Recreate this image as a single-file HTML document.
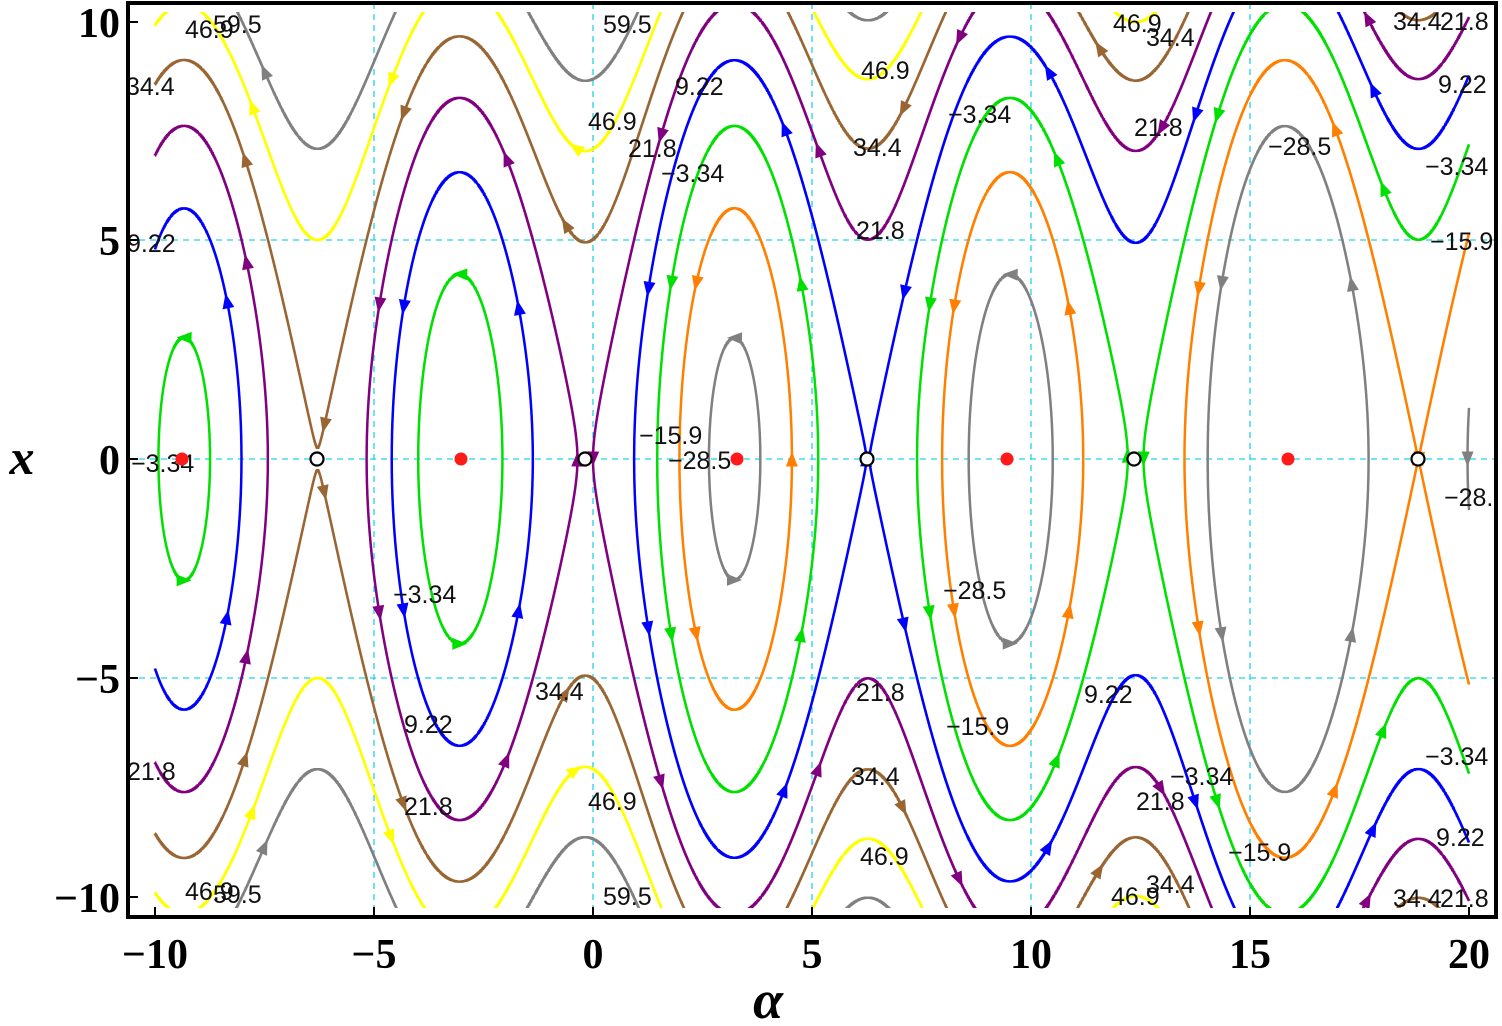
<!DOCTYPE html>
<html><head><meta charset="utf-8">
<style>
html,body{margin:0;padding:0;background:#fff;}
svg{display:block;}
.tk{font-family:"Liberation Serif",serif;font-weight:bold;font-size:42px;fill:#000;}
.lb{font-family:"Liberation Sans",sans-serif;font-size:25px;fill:#111;}
</style></head>
<body>
<svg id="s" width="1502" height="1026" viewBox="0 0 1502 1026" xmlns="http://www.w3.org/2000/svg">
<defs><clipPath id="cp"><rect x="128" y="12" width="1368" height="896"/></clipPath></defs>
<rect width="1502" height="1026" fill="#fff"/>
<g stroke="#22d3e6" stroke-width="1.3" stroke-dasharray="6,5">
<line x1="374" y1="3" x2="374" y2="917"/><line x1="593" y1="3" x2="593" y2="917"/>
<line x1="812" y1="3" x2="812" y2="917"/><line x1="1031" y1="3" x2="1031" y2="917"/>
<line x1="1250" y1="3" x2="1250" y2="917"/>
<line x1="128" y1="240" x2="1496" y2="240"/><line x1="128" y1="459" x2="1496" y2="459"/>
<line x1="128" y1="678" x2="1496" y2="678"/>
</g>
<g id="curves" clip-path="url(#cp)"></g>
<g id="labels" class="lb">
<text x="185" y="38">46.9</text><text x="213" y="33">59.5</text><text x="603" y="33">59.5</text>
<text x="126" y="95">34.4</text><text x="675" y="95">9.22</text><text x="588" y="130">46.9</text>
<text x="628" y="157">21.8</text><text x="661" y="182">−3.34</text><text x="861" y="79">46.9</text>
<text x="853" y="156">34.4</text><text x="856" y="239">21.8</text><text x="1113" y="32">46.9</text>
<text x="1146" y="46">34.4</text><text x="948" y="123">−3.34</text><text x="1134" y="136">21.8</text>
<text x="1393" y="30">34.4</text><text x="1440" y="30">21.8</text><text x="1438" y="93">9.22</text>
<text x="1268" y="155">−28.5</text><text x="1425" y="175">−3.34</text><text x="1430" y="250">−15.9</text>
<text x="127" y="252">9.22</text><text x="639" y="444">−15.9</text><text x="668" y="469">−28.5</text>
<text x="131" y="472">−3.34</text><text x="1444" y="506">−28.</text><text x="393" y="603">−3.34</text>
<text x="943" y="599">−28.5</text><text x="535" y="700">34.4</text><text x="856" y="701">21.8</text>
<text x="1084" y="703">9.22</text><text x="404" y="733">9.22</text><text x="946" y="735">−15.9</text>
<text x="127" y="780">21.8</text><text x="1170" y="785">−3.34</text><text x="1425" y="765">−3.34</text>
<text x="851" y="785">34.4</text><text x="588" y="810">46.9</text><text x="404" y="815">21.8</text>
<text x="1136" y="810">21.8</text><text x="1228" y="861">−15.9</text><text x="1436" y="846">9.22</text>
<text x="860" y="865">46.9</text><text x="1146" y="893">34.4</text><text x="185" y="900">46.9</text>
<text x="213" y="903">59.5</text><text x="603" y="905">59.5</text><text x="1111" y="905">46.9</text>
<text x="1393" y="907">34.4</text><text x="1440" y="907">21.8</text>
</g>
<g id="pts"></g>
<rect x="128" y="3" width="1368" height="914" fill="none" stroke="#000" stroke-width="4"/>
<g stroke="#000" stroke-width="2">
<line x1="155" y1="917" x2="155" y2="907"/><line x1="374" y1="917" x2="374" y2="907"/>
<line x1="593" y1="917" x2="593" y2="907"/><line x1="812" y1="917" x2="812" y2="907"/>
<line x1="1031" y1="917" x2="1031" y2="907"/><line x1="1250" y1="917" x2="1250" y2="907"/>
<line x1="1469" y1="917" x2="1469" y2="907"/>
<line x1="128" y1="22" x2="138" y2="22"/><line x1="128" y1="240" x2="138" y2="240"/>
<line x1="128" y1="459" x2="138" y2="459"/><line x1="128" y1="678" x2="138" y2="678"/>
<line x1="128" y1="897" x2="138" y2="897"/>
</g>
<g class="tk" text-anchor="end">
<text x="120" y="37">10</text><text x="120" y="255">5</text><text x="120" y="474">0</text>
<text x="120" y="693">−5</text><text x="120" y="912">−10</text>
</g>
<g class="tk" text-anchor="middle">
<text x="155" y="968">−10</text><text x="374" y="968">−5</text><text x="593" y="968">0</text>
<text x="812" y="968">5</text><text x="1031" y="968">10</text><text x="1250" y="968">15</text>
<text x="1469" y="968">20</text>
</g>
<text x="768" y="1018" text-anchor="middle" style="font-family:'Liberation Serif',serif;font-style:italic;font-weight:bold;font-size:54px">α</text>
<text x="22" y="474" text-anchor="middle" style="font-family:'Liberation Serif',serif;font-style:italic;font-weight:bold;font-size:50px">x</text>
</svg>
<script>
(function(){
var NS="http://www.w3.org/2000/svg";
function V(a){return -2*a+22*Math.cos(a)-3.75*Math.sin(a/2)-0.2;}
function PX(a){return 593+43.8*a;}
function PY(x){return 459-43.75*x;}
var levels=[[-28.5,"#808080"],[-15.9,"#ff8000"],[-3.34,"#00e000"],[9.22,"#0000ff"],[21.8,"#800080"],[34.4,"#996633"],[46.9,"#ffff00"],[59.5,"#808080"]];
var g=document.getElementById("curves");
var A0=-10,A1=20,st=0.001;
function root(h,lo,hi){
 var flo=h-V(lo);
 for(var i=0;i<50;i++){var m=(lo+hi)/2,fm=h-V(m);if((fm>=0)==(flo>=0)){lo=m;flo=fm;}else hi=m;}
 return (lo+hi)/2;}
function addPath(pts,col){
 if(pts.length<2)return;
 var d="M"+pts.map(function(p){return p[0].toFixed(1)+","+p[1].toFixed(1);}).join("L");
 var p=document.createElementNS(NS,"path");
 p.setAttribute("d",d);p.setAttribute("fill","none");p.setAttribute("stroke",col);p.setAttribute("stroke-width","2.5");
 g.appendChild(p);
 var L=[0];for(var i=1;i<pts.length;i++){L.push(L[i-1]+Math.hypot(pts[i][0]-pts[i-1][0],pts[i][1]-pts[i-1][1]));}
 var tot=L[L.length-1];var n=Math.max(1,Math.round(tot/330));
 var j=0;
 for(var k=0;k<n;k++){
  var t=(k+0.5)*tot/n;
  while(j<pts.length-2&&L[j+1]<t)j++;
  var q=pts[j],r=pts[Math.min(j+4,pts.length-1)];
  var cx=q[0],cy=q[1];
  if(cx<135||cx>1490||cy<14||cy>906)continue;
  var dx=q[0]-r[0],dy=q[1]-r[1];var ln=Math.hypot(dx,dy);if(ln<1e-6)continue;dx/=ln;dy/=ln;
  var s=15,w=6;
  var tip=[cx+dx*s/2,cy+dy*s/2],b1=[cx-dx*s/2-dy*w,cy-dy*s/2+dx*w],b2=[cx-dx*s/2+dy*w,cy-dy*s/2-dx*w];
  var tr=document.createElementNS(NS,"polygon");
  tr.setAttribute("points",tip.join(",")+" "+b1.join(",")+" "+b2.join(","));
  tr.setAttribute("fill",col);g.appendChild(tr);
 }
}
levels.forEach(function(lv){
 var h=lv[0],col=lv[1];
 var ints=[],inside=false,s0=null;
 var prev=A0,pf=h-V(A0);
 if(pf>=0){inside=true;s0=A0;}
 for(var a=A0+st;a<=A1+1e-9;a+=st){
  var f=h-V(a);
  if(!inside&&f>=0){inside=true;s0=root(h,prev,a);}
  else if(inside&&f<0){inside=false;ints.push([s0,root(h,prev,a)]);}
  prev=a;
 }
 if(inside)ints.push([s0,A1]);
 ints.forEach(function(iv){
  var a0=iv[0],a1=iv[1];var cl=a0>A0+1e-6,cr=a1<A1-1e-6;
  var up=[],lo=[];var n=Math.max(2,Math.ceil((a1-a0)/st));
  for(var i=0;i<=n;i++){
   var a=a0+(a1-a0)*i/n;var x=Math.sqrt(Math.max(0,2*(h-V(a))));
   if(x>11)x=11;
   up.push([PX(a),PY(x)]);lo.push([PX(a),PY(-x)]);
  }
  lo.reverse();
  if(cl&&cr){addPath(up.concat(lo,[up[0]]),col);}
  else if(cr){addPath(up.concat(lo),col);}
  else if(cl){addPath(lo.concat(up),col);}
  else{addPath(up,col);addPath(lo,col);}
 });
});
var pg=document.getElementById("pts");
[182,461,737,1007,1288].forEach(function(x){var c=document.createElementNS(NS,"circle");c.setAttribute("cx",x);c.setAttribute("cy",459);c.setAttribute("r",6.5);c.setAttribute("fill","#ff1a1a");pg.appendChild(c);});
[317,585,867,1134,1418].forEach(function(x){var c=document.createElementNS(NS,"circle");c.setAttribute("cx",x);c.setAttribute("cy",459);c.setAttribute("r",6.5);c.setAttribute("fill","#fff");c.setAttribute("stroke","#000");c.setAttribute("stroke-width","2.2");pg.appendChild(c);});
})();
</script>
</body></html>
